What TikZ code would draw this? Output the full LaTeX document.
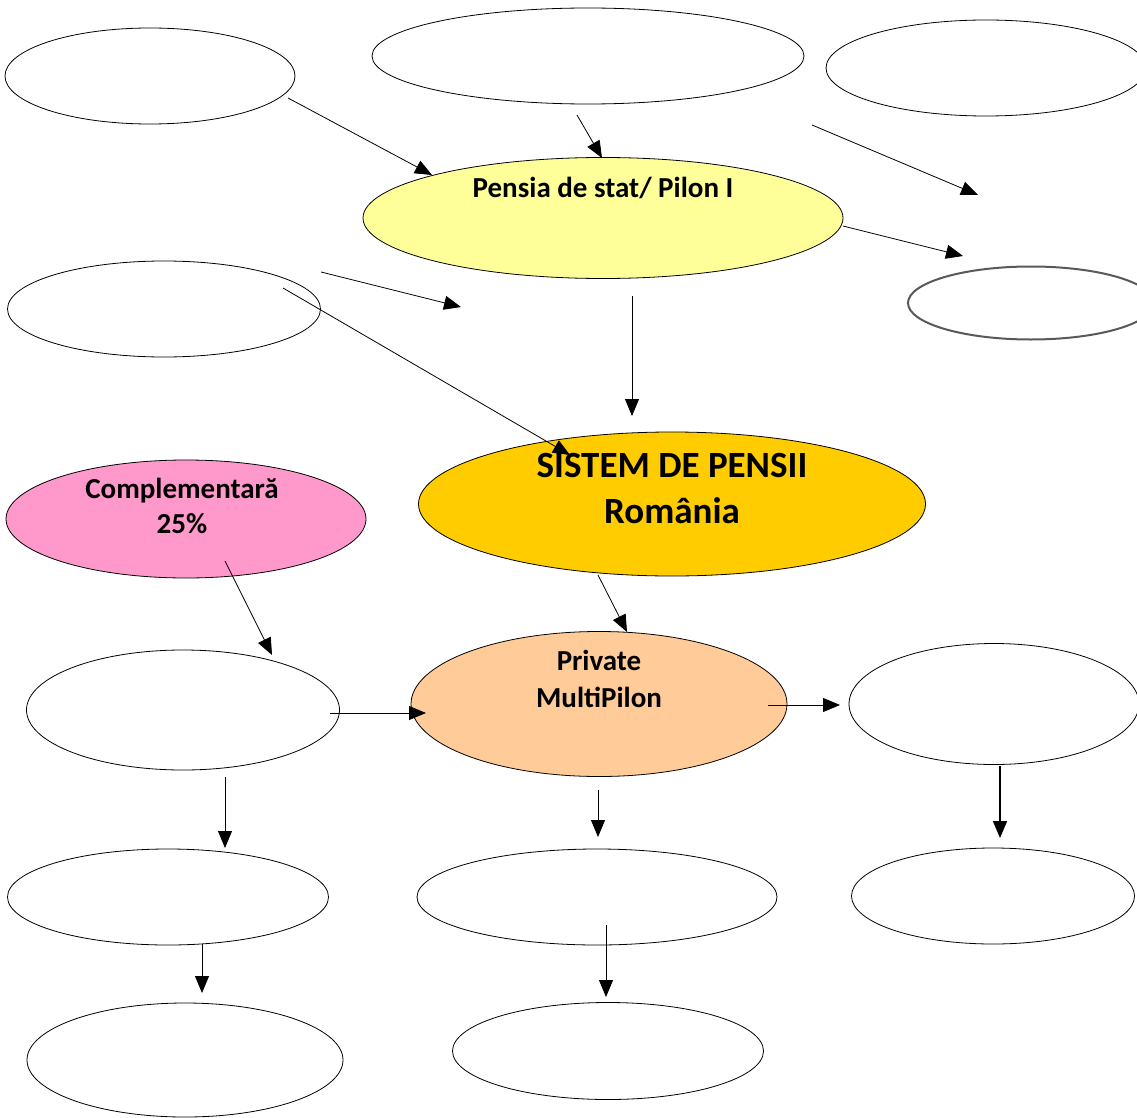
\documentclass[tikz,border=0pt]{standalone}
\usepackage{fontspec}
\setmainfont{Carlito}
\usetikzlibrary{shapes.geometric,arrows.meta}
\definecolor{yel}{HTML}{FFFF99}
\definecolor{gold}{HTML}{FFCC00}
\definecolor{pink}{HTML}{FF99CC}
\definecolor{peach}{HTML}{FFCC99}
\tikzset{
  ell/.style n args={2}{ellipse, draw=black, line width=0.8pt, inner sep=0pt, minimum width=#1pt, minimum height=#2pt},
  con/.style={line width=0.8pt, -{Triangle[length=17pt,width=14pt]}},
  txt/.style={anchor=base, font=\bfseries\fontsize{29}{34}\selectfont, inner sep=0pt},
  bigtxt/.style={anchor=base, font=\bfseries\fontsize{37}{44}\selectfont, inner sep=0pt}
}
\begin{document}
\begin{tikzpicture}[x=1pt,y=-1pt]
\useasboundingbox (0,0) rectangle (1137,1118);
\fill[white] (0,0) rectangle (1137,1118);
% ellipses
\node[ell={290}{96}] (e1) at (150,76) {};
\node[ell={432}{96}] (e2) at (588,56) {};
\node[ell={320}{96}] (e3) at (986,68) {};
\node[ell={480}{121}, fill=yel] (pilon) at (603,218) {};
\node[ell={313}{96}] (e5) at (164,309) {};
\node[ellipse, draw=black!65, line width=2pt, inner sep=0pt, minimum width=246pt, minimum height=73pt] (e6) at (1031,303) {};
\node[ell={507}{144}, fill=gold] (sist) at (672,504) {};
\node[ell={360}{118}, fill=pink] (compl) at (186,519) {};
\node[ell={313}{120}] (e9) at (183,710) {};
\node[ell={376}{145}, fill=peach] (priv) at (599,704) {};
\node[ell={290}{121}] (e11) at (994,704) {};
\node[ell={321}{96}] (e12) at (168,897) {};
\node[ell={360}{96}] (e13) at (597,897) {};
\node[ell={283}{96}] (e14) at (993,896) {};
\node[ell={316}{114}] (e15) at (185,1060) {};
\node[ell={311}{97}] (e16) at (608,1051) {};
% texts
\node[txt] (tpilon) at (603,197) {Pensia de stat/ Pilon I};
\node[bigtxt] (tsist1) at (672,477) {SISTEM DE PENSII};
\node[bigtxt] (tsist2) at (672,523) {România};
\node[txt] (tcompl1) at (182,498) {Complementară};
\node[txt] (tcompl2) at (182,533) {25\%};
\node[txt] (tpriv1) at (599,670) {Private};
\node[txt] (tpriv2) at (599,707) {MultiPilon};
% connector end points
\coordinate (a1) at (288,98);   \coordinate (a2) at (432,175);
\coordinate (b1) at (577,115);  \coordinate (b2) at (602,158);
\coordinate (c1) at (812,125);  \coordinate (c2) at (978,195);
\coordinate (d1) at (843,226);  \coordinate (d2) at (963,256);
\coordinate (f1) at (321,272);  \coordinate (f2) at (461,307);
\coordinate (g1) at (283,288);  \coordinate (g2) at (570,455);
\coordinate (h1) at (632,296);  \coordinate (h2) at (632,416);
\coordinate (i1) at (598,575);  \coordinate (i2) at (627,632);
\coordinate (j1) at (225,561);  \coordinate (j2) at (272,655);
\coordinate (k1) at (330,713);  \coordinate (k2) at (426,713);
\coordinate (l1) at (768,705);  \coordinate (l2) at (840,705);
\coordinate (m1) at (225,777);  \coordinate (m2) at (225,848);
\coordinate (n1) at (598,790);  \coordinate (n2) at (598,837);
\coordinate (o1) at (1000,766); \coordinate (o2) at (1000,838);
\coordinate (p1) at (202,944);  \coordinate (p2) at (202,993);
\coordinate (q1) at (606,925);  \coordinate (q2) at (606,997);
% connectors
\draw[con] (a1) -- (a2);
\draw[con] (b1) -- (b2);
\draw[con] (c1) -- (c2);
\draw[con] (d1) -- (d2);
\draw[con] (f1) -- (f2);
\draw[con] (g1) -- (g2);
\draw[con] (h1) -- (h2);
\draw[con] (i1) -- (i2);
\draw[con] (j1) -- (j2);
\draw[con] (k1) -- (k2);
\draw[con] (l1) -- (l2);
\draw[con] (m1) -- (m2);
\draw[con] (n1) -- (n2);
\draw[con, line width=1.8pt] (o1) -- (o2);
\draw[con] (p1) -- (p2);
\draw[con] (q1) -- (q2);
\end{tikzpicture}
\end{document}
